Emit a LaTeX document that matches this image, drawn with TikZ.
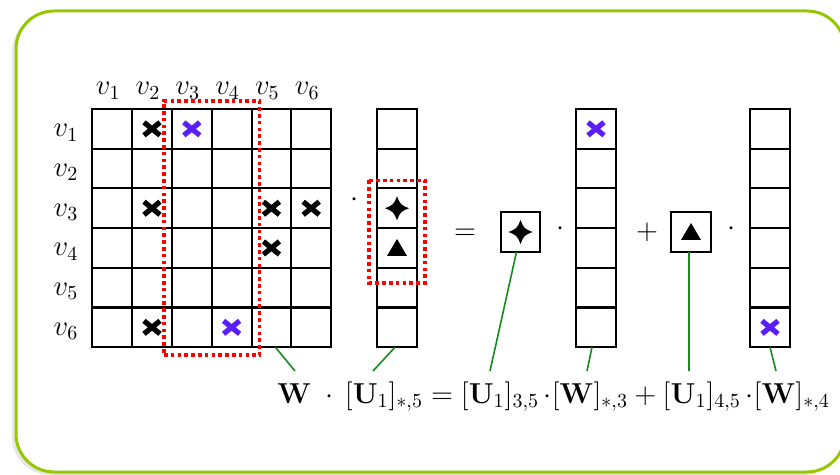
\documentclass[tikz,border=0pt]{standalone}
\usepackage{amsmath}
\usepackage{amssymb}
\usepackage{xcolor}
\usepackage{tikz}
\usetikzlibrary{positioning, calc, fit, shadows}

\definecolor{framegreen}{RGB}{150,200,0}
\definecolor{linkgreen}{RGB}{20,140,30}
\definecolor{markblue}{RGB}{90,30,250}

\begin{document}
\begin{tikzpicture}[
  x=0.5pt, y=-0.5pt,
  cell/.style={draw, line width=1pt, minimum size=19.9pt, inner sep=0pt, outer sep=0pt},
  lab/.style={font=\Large, inner sep=0pt},
  sel/.style={draw=red, line width=1.8pt, dash pattern=on 1.8pt off 1.6pt},
  link/.style={draw=linkgreen, line width=0.8pt},
  frame/.style={draw=framegreen, line width=1.5pt, fill=white, rounded corners=19pt,
                drop shadow={shadow xshift=-2pt, shadow yshift=-1.5pt, opacity=0.2}},
  cross/.pic={\draw[line width=2.6pt] (-8,-6.5) -- (8,6.5) (-8,6.5) -- (8,-6.5);},
  spark/.pic={\fill (0,-12) .. controls (3.5,-3.5) .. (12,0) .. controls (3.5,3.5) .. (0,12)
                .. controls (-3.5,3.5) .. (-12,0) .. controls (-3.5,-3.5) .. (0,-12) -- cycle;},
  tri/.pic={\fill (0,-9) -- (10,8) -- (-10,8) -- cycle;}
]
\useasboundingbox (0,0) rectangle (840,475);
\path[frame] (16,11) rectangle (845,472);

% matrix W
\foreach \r in {1,...,6}
  \foreach \c in {1,...,6}
    \node[cell] (m-\r-\c) at ({72.4+39.8*\c},{89.15+39.7*\r}) {};
\foreach \c in {1,...,6}
  \node[lab, anchor=base] (col-\c) at ({68.4+39.8*\c},95) {$v_{\c}$};
\foreach \r in {1,...,6}
  \node[lab, anchor=base] (row-\r) at (66,{97.15+39.7*\r}) {$v_{\r}$};

% column vectors
\foreach \r in {1,...,6} {
  \node[cell] (u-\r) at (397,{89.15+39.7*\r}) {};
  \node[cell] (w3-\r) at (596,{89.15+39.7*\r}) {};
  \node[cell] (w4-\r) at (770,{89.15+39.7*\r}) {};
}
\node[cell] (sbox) at (520.5,232) {};
\node[cell] (tbox) at (691,232) {};

\node[sel, inner sep=4pt, fit=(m-1-3)(m-6-4)] (selm) {};
\draw[sel] ([shift={(-8,-8)}]u-3.north west) rectangle ([shift={(8,15)}]u-4.south east);

\foreach \p in {m-1-2, m-3-2, m-3-5, m-3-6, m-4-5, m-6-2}
  \pic at (\p) {cross};
\foreach \p in {m-1-3, m-6-4, w3-1, w4-6}
  \pic[color=markblue] at (\p) {cross};
\pic at (u-3) {spark};
\pic at (sbox) {spark};
\pic at (u-4) {tri};
\pic at (tbox) {tri};

\node[lab, anchor=base] (dot1) at (354,207) {$\cdot$};
\node[lab, anchor=base] (eq1) at (465,240) {$=$};
\node[lab, anchor=base] (dot2) at (560,236) {$\cdot$};
\node[lab, anchor=base] (plus) at (647,240) {$+$};
\node[lab, anchor=base] (dot3) at (731,236) {$\cdot$};

\node[lab, anchor=base west] (eq) at (277,403)
  {$\mathbf{W}\;\cdot\,[\mathbf{U}_1]_{*,5} = [\mathbf{U}_1]_{3,5}\,{\cdot}[\mathbf{W}]_{*,3}
    + [\mathbf{U}_1]_{4,5}\,{\cdot}[\mathbf{W}]_{*,4}$};

\coordinate (tW) at (295,371);
\coordinate (tU) at (373,371);
\coordinate (tU35) at (490,371);
\coordinate (tW3) at (587,371);
\coordinate (tU45) at (689,371);
\coordinate (tW4) at (776,371);
\draw[link] ([xshift=2pt]m-6-5.south) -- (tW);
\draw[link] ([xshift=-1pt]u-6.south) -- (tU);
\draw[link] ([xshift=-2pt]sbox.south) -- (tU35);
\draw[link] ([xshift=-2pt]w3-6.south) -- (tW3);
\draw[link] ([xshift=-1pt]tbox.south) -- (tU45);
\draw[link] (w4-6.south) -- (tW4);
\end{tikzpicture}
\end{document}
